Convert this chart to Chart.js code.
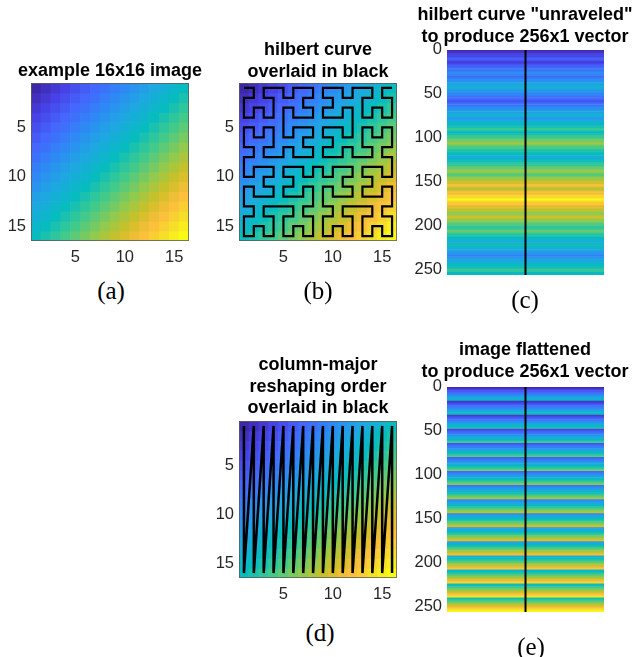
<!DOCTYPE html>
<html>
<head>
<meta charset="utf-8">
<script src="https://cdn.jsdelivr.net/npm/chart.js@4.4.0/dist/chart.umd.min.js"></script>
<style>
	body { margin: 0; background: #fff; width: 635px; height: 657px; position: relative; overflow: hidden; }
	canvas { position: absolute; }
	.title { position: absolute; width: 300px; text-align: center; white-space: nowrap;
		font-family: "Liberation Sans", Arial, sans-serif; font-weight: bold; font-size: 18px; line-height: 21.5px; color: #000; }
	.label { position: absolute; width: 60px; text-align: center;
		font-family: "Liberation Serif", "Times New Roman", serif; font-size: 25px; line-height: 30px; color: #000; }
</style>
</head>
<body>
<script>
// === Data ===

// 16x16 example image, row by row (top row first)
const imageRows = [
	[ 2,  3,  4,  5,  6,  7,  8,  9, 10, 11, 12, 13, 14, 15, 16, 17],
	[ 3,  4,  5,  6,  7,  8,  9, 10, 11, 12, 13, 14, 15, 16, 17, 18],
	[ 4,  5,  6,  7,  8,  9, 10, 11, 12, 13, 14, 15, 16, 17, 18, 19],
	[ 5,  6,  7,  8,  9, 10, 11, 12, 13, 14, 15, 16, 17, 18, 19, 20],
	[ 6,  7,  8,  9, 10, 11, 12, 13, 14, 15, 16, 17, 18, 19, 20, 21],
	[ 7,  8,  9, 10, 11, 12, 13, 14, 15, 16, 17, 18, 19, 20, 21, 22],
	[ 8,  9, 10, 11, 12, 13, 14, 15, 16, 17, 18, 19, 20, 21, 22, 23],
	[ 9, 10, 11, 12, 13, 14, 15, 16, 17, 18, 19, 20, 21, 22, 23, 24],
	[10, 11, 12, 13, 14, 15, 16, 17, 18, 19, 20, 21, 22, 23, 24, 25],
	[11, 12, 13, 14, 15, 16, 17, 18, 19, 20, 21, 22, 23, 24, 25, 26],
	[12, 13, 14, 15, 16, 17, 18, 19, 20, 21, 22, 23, 24, 25, 26, 27],
	[13, 14, 15, 16, 17, 18, 19, 20, 21, 22, 23, 24, 25, 26, 27, 28],
	[14, 15, 16, 17, 18, 19, 20, 21, 22, 23, 24, 25, 26, 27, 28, 29],
	[15, 16, 17, 18, 19, 20, 21, 22, 23, 24, 25, 26, 27, 28, 29, 30],
	[16, 17, 18, 19, 20, 21, 22, 23, 24, 25, 26, 27, 28, 29, 30, 31],
	[17, 18, 19, 20, 21, 22, 23, 24, 25, 26, 27, 28, 29, 30, 31, 32]
];

const imageTicks = [5, 10, 15];
const vectorTicks = [0, 50, 100, 150, 200, 250];

const titleA = ['example 16x16 image'];
const titleB = ['hilbert curve', 'overlaid in black'];
const titleC = ['hilbert curve "unraveled"', 'to produce 256x1 vector'];
const titleD = ['column-major', 'reshaping order', 'overlaid in black'];
const titleE = ['image flattened', 'to produce 256x1 vector'];


// === Orders ===

// standard hilbert curve index -> (col, row), zero based
function hilbertPoint(n, d) {
	let x = 0, y = 0, t = d;
	for (let s = 1; s < n; s *= 2) {
		const rx = 1 & Math.floor(t / 2);
		const ry = 1 & (t ^ rx);
		if (ry === 0) {
			if (rx === 1) {
				x = s - 1 - x;
				y = s - 1 - y;
			}
			const tmp = x; x = y; y = tmp;
		}
		x += s * rx;
		y += s * ry;
		t = Math.floor(t / 4);
	}
	return [x, y];
}

const size = imageRows.length;
const hilbertPath = [];
for (let d = 0; d < size * size; d++) {
	const [c, r] = hilbertPoint(size, d);
	hilbertPath.push({ x: c + 1, y: r + 1 });
}
const columnPath = [];
for (let k = 0; k < size * size; k++)
	columnPath.push({ x: Math.floor(k / size) + 1, y: (k % size) + 1 });

const hilbertValues = hilbertPath.map(p => imageRows[p.y - 1][p.x - 1]);
const columnValues = columnPath.map(p => imageRows[p.y - 1][p.x - 1]);

const allValues = imageRows.flat();
const vMin = Math.min(...allValues);
const vMax = Math.max(...allValues);


// === Colormap (parula) ===

const parulaStops = [
	[0.00, 0.2422, 0.1504, 0.6603],
	[0.10, 0.2790, 0.2600, 0.9040],
	[0.20, 0.2650, 0.4030, 0.9930],
	[0.30, 0.1770, 0.5400, 0.9600],
	[0.40, 0.1120, 0.6630, 0.8770],
	[0.50, 0.0250, 0.7380, 0.7490],
	[0.60, 0.2590, 0.7940, 0.5450],
	[0.70, 0.5700, 0.7930, 0.3000],
	[0.78, 0.8100, 0.7500, 0.1540],
	[0.86, 0.9900, 0.7400, 0.2400],
	[0.93, 0.9650, 0.8700, 0.1600],
	[1.00, 0.9769, 0.9839, 0.0805]
];

function parula(v) {
	const t = Math.max(0, Math.min(1, (v - vMin) / (vMax - vMin)));
	let i = 0;
	while (i < parulaStops.length - 2 && t > parulaStops[i + 1][0])
		i++;
	const a = parulaStops[i], b = parulaStops[i + 1];
	const f = (t - a[0]) / (b[0] - a[0]);
	const rgb = [1, 2, 3].map(k => Math.round(255 * (a[k] + (b[k] - a[k]) * f)));
	return 'rgb(' + rgb.join(',') + ')';
}


// === Layout helpers ===

const tickFont = { family: '"Liberation Sans", Arial, sans-serif', size: 16.5 };
const tickColor = '#262626';
const LEFT = 60, TOP = 15, RIGHT = 12, BOTTOM = 35;

const boxPlugin = {
	id: 'box',
	afterDatasetsDraw(chart, args, opts) {
		if (!opts.color)
			return;
		const a = chart.chartArea;
		const ctx = chart.ctx;
		ctx.save();
		ctx.strokeStyle = opts.color;
		ctx.lineWidth = 1;
		ctx.strokeRect(a.left + 0.5, a.top + 0.5, a.width - 1, a.height - 1);
		ctx.restore();
	}
};

function addCanvas(rect) {
	const canvas = document.createElement('canvas');
	canvas.width = rect.w + LEFT + RIGHT;
	canvas.height = rect.h + TOP + BOTTOM;
	canvas.style.left = (rect.x - LEFT) + 'px';
	canvas.style.top = (rect.y - TOP) + 'px';
	document.body.appendChild(canvas);
	return canvas;
}

function addTitle(lines, cx, cy) {
	const div = document.createElement('div');
	div.className = 'title';
	div.style.left = (cx - 150) + 'px';
	div.style.top = (cy - 10.75) + 'px';
	div.innerHTML = lines.map(l => l.replace(/&/g, '&amp;').replace(/</g, '&lt;')).join('<br>');
	document.body.appendChild(div);
}

function addLabel(text, cx, cy) {
	const div = document.createElement('div');
	div.className = 'label';
	div.style.left = (cx - 30) + 'px';
	div.style.top = (cy - 15) + 'px';
	div.textContent = text;
	document.body.appendChild(div);
}

function fixTicks(values) {
	return scale => { scale.ticks = values.map(v => ({ value: v })); };
}

const baseOptions = {
	responsive: false,
	animation: false,
	events: [],
	plugins: { legend: { display: false }, tooltip: { enabled: false } }
};


// === Image charts ===

function createImageChart(rect, rows, path, lineWidth) {
	const datasets = rows.map((row, r) => ({
		type: 'bar',
		data: row.map((v, c) => ({ x: c + 1, y: [r + 0.5, r + 1.5] })),
		backgroundColor: row.map(v => parula(v)),
		borderWidth: 0,
		barPercentage: 1,
		categoryPercentage: 1,
		grouped: false,
		order: 1
	}));
	if (path)
		datasets.push({
			type: 'line',
			data: path,
			borderColor: '#000',
			borderWidth: lineWidth,
			borderJoinStyle: 'miter',
			pointRadius: 0,
			fill: false,
			tension: 0,
			order: 0
		});

	return new Chart(addCanvas(rect), {
		type: 'bar',
		data: { datasets: datasets },
		options: Object.assign({}, baseOptions, {
			layout: { padding: { top: TOP, right: RIGHT, left: 0, bottom: 0 } },
			plugins: Object.assign({}, baseOptions.plugins, { box: { color: 'rgba(90,90,90,0.8)' } }),
			scales: {
				x: {
					type: 'linear', min: 0.5, max: size + 0.5, offset: false,
					grid: { display: false, drawTicks: false },
					border: { display: false },
					ticks: { font: tickFont, color: tickColor, padding: 7, maxRotation: 0 },
					afterBuildTicks: fixTicks(imageTicks),
					afterFit: scale => { scale.height = BOTTOM; }
				},
				y: {
					type: 'linear', min: 0.5, max: size + 0.5, reverse: true, offset: false,
					grid: { display: false, drawTicks: false },
					border: { display: false },
					ticks: { font: tickFont, color: tickColor, padding: 5 },
					afterBuildTicks: fixTicks(imageTicks),
					afterFit: scale => { scale.width = LEFT; }
				}
			}
		}),
		plugins: [boxPlugin]
	});
}


// === Vector charts ===

function createVectorChart(rect, values) {
	return new Chart(addCanvas(rect), {
		type: 'bar',
		data: {
			datasets: [
				{
					data: values.map((v, i) => ({ y: i + 1, x: [0.5, 1.5] })),
					backgroundColor: values.map(v => parula(v)),
					borderWidth: 0,
					barPercentage: 1,
					categoryPercentage: 1,
					order: 1
				},
				{
					type: 'line',
					data: [{ x: 1, y: 0.5 }, { x: 1, y: values.length + 0.5 }],
					borderColor: '#000',
					borderWidth: 2,
					pointRadius: 0,
					fill: false,
					order: 0
				}
			]
		},
		options: Object.assign({}, baseOptions, {
			indexAxis: 'y',
			layout: { padding: { top: TOP, right: RIGHT, left: 0, bottom: BOTTOM } },
			scales: {
				x: { type: 'linear', min: 0.5, max: 1.5, offset: false, display: false },
				y: {
					type: 'linear', min: 0.5, max: values.length + 0.5, reverse: true, offset: false,
					grid: { display: false, drawTicks: false },
					border: { display: false },
					ticks: { font: tickFont, color: tickColor, padding: 5 },
					afterBuildTicks: fixTicks(vectorTicks),
					afterFit: scale => { scale.width = LEFT; }
				}
			}
		})
	});
}


// === Figure ===

createImageChart({ x: 31, y: 83, w: 158, h: 158 }, imageRows, null, 0);
createImageChart({ x: 239, y: 83, w: 158, h: 158 }, imageRows, hilbertPath, 2.2);
createVectorChart({ x: 447, y: 50, w: 157, h: 225 }, hilbertValues);
createImageChart({ x: 239, y: 421, w: 158, h: 157 }, imageRows, columnPath, 2.5);
createVectorChart({ x: 447, y: 387, w: 157, h: 225 }, columnValues);

addTitle(titleA, 110, 71);
addTitle(titleB, 318, 50);
addTitle(titleC, 525, 15);
addTitle(titleD, 318, 365);
addTitle(titleE, 525, 350);

addLabel('(a)', 111, 291);
addLabel('(b)', 318, 291);
addLabel('(c)', 525, 300);
addLabel('(d)', 320, 633);
addLabel('(e)', 531, 647);
</script>
</body>
</html>
